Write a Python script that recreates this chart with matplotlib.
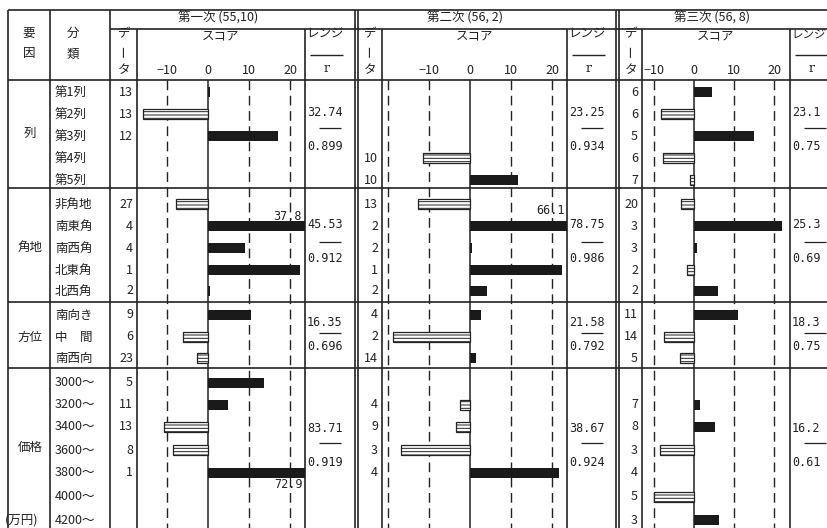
import numpy as np
import matplotlib.pyplot as plt

plt.rcParams['font.family'] = ['Noto Sans CJK JP', 'DejaVu Sans']
plt.rcParams['hatch.linewidth'] = 0.7

nan = np.nan

# データ
groups = ['列', '角地', '方位', '価格']
categories = ['第1列', '第2列', '第3列', '第4列', '第5列',
              '非角地', '南東角', '南西角', '北東角', '北西角',
              '南向き', '中　間', '南西向',
              '3000～', '3200～', '3400～', '3600～', '3800～', '4000～', '4200～']
titles = ['第一次 (55,10)', '第二次 (56, 2)', '第三次 (56, 8)']

n1 = [13, 13, 12, None, None, 27, 4, 4, 1, 2, 9, 6, 23, 5, 11, 13, 8, 1, None, None]
n2 = [None, None, None, 10, 10, 13, 2, 2, 1, 2, 4, 2, 14, None, 4, 9, 3, 4, None, None]
n3 = [6, 6, 5, 6, 7, 20, 3, 3, 2, 2, 11, 14, 5, None, 7, 8, 3, 4, 5, 3]

score1 = [0.5, -15.8, 17.0, nan, nan, -7.7, 37.8, 9.0, 22.3, 0.5,
          10.4, -6.0, -2.7, 13.6, 4.9, -10.8, -8.4, 72.9, nan, nan]
score2 = [nan, nan, nan, -11.5, 11.7, -12.6, 66.1, 0.5, 22.4, 4.2,
          2.7, -18.8, 1.4, nan, -2.4, -3.4, -16.9, 21.8, nan, nan]
score3 = [4.5, -8.2, 15.0, -7.7, -1.0, -3.2, 22.0, 0.8, -1.8, 6.0,
          11.0, -7.5, -3.5, nan, 1.5, 5.2, -8.5, nan, -10.0, 6.2]

range1 = ['32.74', '45.53', '16.35', '83.71']
r1 = ['0.899', '0.912', '0.696', '0.919']
range2 = ['23.25', '78.75', '21.58', '38.67']
r2 = ['0.934', '0.986', '0.792', '0.924']
range3 = ['23.1', '25.3', '18.3', '16.2']
r3 = ['0.75', '0.69', '0.75', '0.61']

ticks = [-10, 0, 10, 20]

# レイアウト（ピクセル）
W, H = 828, 528
row_y = [92, 114, 136, 158, 180, 204, 226, 248, 270, 291,
         315, 337, 358, 383, 405, 427, 450, 473, 497, 520]
group_y = [133, 247, 337, 447]
sep_y = [80, 188, 302, 368]
range_y = [(112, 128, 146), (225, 242, 259), (322, 333, 347), (428, 443, 462)]
title_x = [218, 465, 712]
# data col left, score left, score right, zero px, px per unit
panels = [(110, 137, 305, 208, 4.12),
          (357, 382, 567, 470, 4.10),
          (619, 642, 790, 694, 4.00)]
counts = [n1, n2, n3]
scores = [score1, score2, score3]
ranges = [range1, range2, range3]
rs = [r1, r2, r3]

ink = '#222222'
lw = 1.2
fs = 9

fig = plt.figure(figsize=(W / 100, H / 100), dpi=100)
ax0 = fig.add_axes([0, 0, 1, 1])
ax0.set_xlim(0, W)
ax0.set_ylim(H, 0)
ax0.axis('off')

# 枠線
ax0.hlines(10, 8, W, color=ink, lw=lw)
ax0.hlines(29, 110, W, color=ink, lw=lw)
ax0.hlines(sep_y, 8, W, color=ink, lw=lw)
ax0.vlines([8, 50, 110], 10, H, color=ink, lw=lw)
ax0.vlines([355, 358, 616, 619], 10, H, color=ink, lw=lw)
for x0, sl, sr, z, ppu in panels:
    ax0.vlines([sl, sr], 29, H, color=ink, lw=lw)

ax0.text(29, 33, '要', ha='center', va='center', fontsize=fs, color=ink)
ax0.text(29, 54, '因', ha='center', va='center', fontsize=fs, color=ink)
ax0.text(73, 33, '分', ha='center', va='center', fontsize=fs, color=ink)
ax0.text(73, 54, '類', ha='center', va='center', fontsize=fs, color=ink)

for g, y in zip(groups, group_y):
    ax0.text(30, y, g, ha='center', va='center', fontsize=fs, color=ink)
ax0.text(22, 520, '(万円)', ha='center', va='center', fontsize=fs, color=ink)

for c, y in zip(categories, row_y):
    ax0.text(55, y, c, ha='left', va='center', fontsize=fs, color=ink)

for i, (x0, sl, sr, z, ppu) in enumerate(panels):
    ax0.text(title_x[i], 18, titles[i], ha='center', va='center',
             fontsize=fs, color=ink)
    dx = (x0 + sl) / 2 + 1
    ax0.text(dx, 34, 'デ', ha='center', va='center', fontsize=fs, color=ink)
    ax0.text(dx, 51, 'ー', ha='center', va='center', fontsize=fs, color=ink,
             rotation=90)
    ax0.text(dx, 70, 'タ', ha='center', va='center', fontsize=fs, color=ink)
    ax0.text((sl + sr) / 2, 36, 'スコア', ha='center', va='center',
             fontsize=fs, color=ink)
    ax0.text(sr + 1, 34, 'レンジ', ha='left', va='center',
             fontsize=fs if i < 2 else 8.3, color=ink)
    ax0.hlines(55, sr + 5, sr + 38, color=ink, lw=1.0)
    ax0.text(sr + 22, 69, 'r', ha='center', va='center', fontsize=fs,
             color=ink, family='DejaVu Serif')
    for n, y in zip(counts[i], row_y):
        if n is not None:
            ax0.text(sl - 4, y, str(n), ha='right', va='center',
                     fontsize=fs, color=ink)
    for k, (ya, yl, yb) in enumerate(range_y):
        ax0.text(sr + 2, ya, ranges[i][k], ha='left', va='center',
                 fontsize=8.5, color=ink, family='DejaVu Sans Mono')
        ax0.hlines(yl, sr + 14, sr + 36, color=ink, lw=0.9)
        ax0.text(sr + 2, yb, rs[i][k], ha='left', va='center',
                 fontsize=8.5, color=ink, family='DejaVu Sans Mono')

    # スコア軸
    ax = fig.add_axes([sl / W, 0, (sr - sl) / W, 1])
    ax.set_xlim((sl - z) / ppu, (sr - z) / ppu)
    ax.set_ylim(H, 0)
    ax.axis('off')
    ax.patch.set_visible(False)
    ax.vlines([-20, -10, 10, 20], sep_y[0], H, color=ink, lw=1.0,
              linestyles=(0, (7, 4)))
    ax.vlines(0, sep_y[0], H, color=ink, lw=1.1)
    for t in ticks:
        ax.text(t, 70, f'{t}'.replace('-', '−'), ha='center', va='center',
                fontsize=fs, color=ink, clip_on=False)
    v = np.array(scores[i], dtype=float)
    yy = np.array(row_y, dtype=float)
    ok = ~np.isnan(v)
    pos = ok & (v >= 0)
    neg = ok & (v < 0)
    ax.barh(yy[pos], v[pos], height=10, color='#1a1a1a', zorder=3)
    ax.barh(yy[neg], v[neg], height=10, facecolor='white', edgecolor=ink,
            hatch='-----', lw=0.9, zorder=3)

# 範囲外の値
ax0.text(302, 216, '37.8', ha='right', va='center', fontsize=8.5, color=ink,
         family='DejaVu Sans Mono')
ax0.text(565, 210, '66.1', ha='right', va='center', fontsize=8.5, color=ink,
         family='DejaVu Sans Mono')
ax0.text(303, 485, '72.9', ha='right', va='center', fontsize=8.5, color=ink,
         family='DejaVu Sans Mono')

fig.savefig('out.png', dpi=100, facecolor='white')
